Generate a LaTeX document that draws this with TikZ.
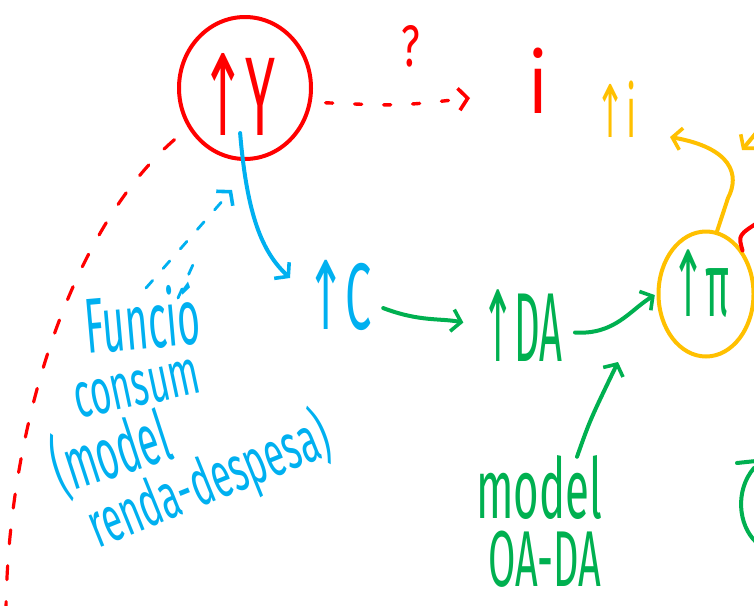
\documentclass[tikz,border=0pt]{standalone}
\usepackage{fontspec}
\setmainfont{Fira Sans}
\newfontfamily\arrfont{DejaVu Sans}
\usetikzlibrary{arrows.meta,shapes.geometric}
\definecolor{hred}{HTML}{FF0000}
\definecolor{hblue}{HTML}{00B0F0}
\definecolor{hgreen}{HTML}{00B050}
\definecolor{hyellow}{HTML}{FFC000}
% size, xscale, yscale, text
\newcommand{\hw}[4]{\scalebox{#2}[#3]{\fontsize{#1}{#1}\selectfont #4}}
\newcommand{\upa}{{\arrfont ↑}}
\begin{document}
\begin{tikzpicture}[x=1pt,y=-1pt,line cap=round,line join=round,
  pen/.style={line width=4pt},
  barb/.style={-{Straight Barb[length=9pt,width=22pt,line width=3.6pt]}},
  circ/.style={draw,ellipse,pen,inner sep=0pt},
  lbl/.style={inner sep=0pt},
  dotline/.style={line width=3.4pt,dash pattern=on 7pt off 22pt},
  dashline/.style={line width=3.2pt,dash pattern=on 14pt off 22pt},
  bdash/.style={line width=2.8pt,dash pattern=on 10pt off 16pt}]
\useasboundingbox (0,0) rectangle (754,605);
\clip (0,0) rectangle (754,605);

% nodes
\node[circ,hred,minimum width=132pt,minimum height=142pt] (Y) at (245,88) {};
\node[lbl,hred] (Yt) at (238,94) {\hw{80}{0.68}{1.4}{\upa Y}};
\node[lbl,hred] (q) at (411,46) {\hw{45}{0.9}{1.3}{?}};
\node[lbl,hred] (i) at (538,81) {\hw{70}{1}{1.2}{i}};
\node[lbl,hyellow] (iy) at (616,109) {\hw{58}{0.62}{1.25}{\upa i}};
\node[lbl,hblue] (C) at (339,295) {\hw{70}{0.67}{1.35}{\upa C}};
\node[lbl,hgreen] (DA) at (522,326) {\hw{70}{0.57}{1.4}{\upa DA}};
\node[circ,hyellow,minimum width=95pt,minimum height=125pt] (Pi) at (706,294) {};
\node[lbl,hgreen] (pit) at (701,284) {\hw{70}{0.58}{1.3}{\upa π}};
\node[lbl,hgreen] (mod1) at (539,487) {\hw{60}{0.73}{1.4}{model}};
\node[lbl,hgreen] (mod2) at (545,559) {\hw{60}{0.66}{1.32}{OA-DA}};

\node[lbl,hblue,rotate=5] (fun) at (142,318) {\hw{60}{0.65}{1.3}{Funció}};
\node[lbl,hblue,rotate=12] (cons) at (137,389) {\hw{50}{0.72}{1.28}{consum}};
\node[lbl,hblue,rotate=18] (mdl) at (111,452) {\hw{55}{0.68}{1.32}{(model}};
\node[lbl,hblue,rotate=22] (rd) at (209,482) {\hw{50}{0.72}{1.28}{renda-despesa)}};

% coordinates
\coordinate (qend) at (470,98);
\coordinate (bl) at (6,610);
\coordinate (bds) at (146,288);
\coordinate (bd) at (232,190);
\coordinate (bd2a) at (178,298);
\coordinate (bd2b) at (196,258);
\coordinate (ctip) at (290,278);
\coordinate (g3) at (618,362);
\coordinate (ytip) at (670,137);
\coordinate (yin) at (775,110);
\coordinate (yhead) at (742,150);
\coordinate (redout) at (762,220);

% connectors
\draw[hred,dotline,barb,shorten <=14pt] (Y.-12) .. controls (400,106) .. (qend);
\draw[hred,dashline,shorten <=18pt] (Y.215) .. controls (70,230) and (8,430) .. (bl);
\draw[hblue,pen,barb,shorten <=-28pt] (Y.-92) .. controls (247,215) and (262,252) .. (ctip);
\draw[hblue,bdash,barb] (bds) -- (bd);
\draw[hblue,bdash] (bd2a) -- (bd2b);
\draw[hgreen,pen,barb,shorten <=12pt,shorten >=18pt] (C.-15) .. controls (420,322) and (440,318) .. (DA.west);
\draw[hgreen,pen,barb,shorten <=12pt,shorten >=2pt] (DA.-8) .. controls (615,335) and (630,310) .. (Pi.west);
\draw[hgreen,pen,barb] ([xshift=38pt,yshift=-2pt]mod1.north) .. controls (590,420) .. (g3);
\draw[hyellow,pen,barb] (Pi.80) -- (728,198) .. controls (740,175) and (732,148) .. (ytip);
\draw[hyellow,pen,barb] (yin) -- (yhead);
\draw[hred,pen] (Pi.50) .. controls (738,235) .. (redout);
\draw[hgreen,pen] (737,463) -- (756,461);
\draw[hgreen,pen] (754,468) .. controls (735,490) and (738,525) .. (756,542);
\end{tikzpicture}
\end{document}
